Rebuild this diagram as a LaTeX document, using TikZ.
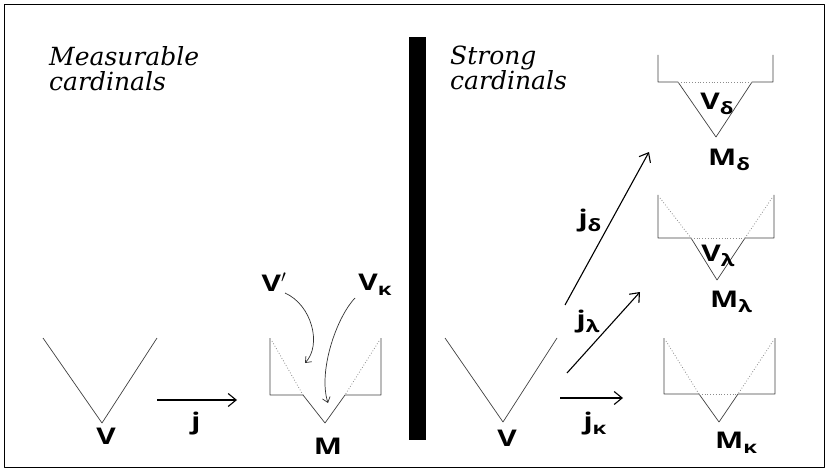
\documentclass[tikz,border=0pt]{standalone}
\usepackage{fontspec}
\setmainfont{DejaVu Serif}
\newfontfamily\lblfont{Open Sans}[FakeStretch=1.3]
\usetikzlibrary{arrows.meta}

\begin{document}
\begin{tikzpicture}[x=1pt, y=-1pt, line join=round,
  >={Straight Barb[length=8pt,width=13pt]},
  head/.style={font=\fontsize{25}{25}\selectfont\itshape, align=left,
               anchor=base west, inner sep=0pt},
  lbl/.style={font=\fontsize{23}{24}\lblfont\bfseries\selectfont, inner sep=0pt},
  cone/.style={draw=black!75, line width=0.7pt},
  cut/.style={draw=black!45, dotted, line width=0.8pt},
  map/.style={->, line width=1.1pt},
  curl/.style={->, line width=0.7pt, draw=black!80,
               >={Straight Barb[length=5pt,width=8pt]}}]

  \newcommand{\sub}[1]{\raisebox{-0.4ex}{\fontsize{17}{17}\selectfont #1}}

  \useasboundingbox (0,0) rectangle (827,473);

  %--- Frame and divider ----------------------------------------------------
  \draw[line width=0.9pt] (4,4) rectangle (824,467);
  \fill (409,37) rectangle (426,440);

  %--- Headings -------------------------------------------------------------
  \node[head] (hmeas) at (49,91) {Measurable\\cardinals};
  \node[head] (hstrong) at (450,90) {Strong\\cardinals};

  %--- Left: V --j--> M -----------------------------------------------------
  \draw[cone] (43,338) -- (102,423) -- (157,338);
  \node[lbl] (V) at (106,436) {V};

  \coordinate (jA) at (157,400);
  \coordinate (jB) at (237,400);
  \draw[map] (jA) -- (jB);
  \node[lbl] (j) at (196,424) {j};

  \draw[cone] (270,338) -- (270,395) -- (303,395) -- (325,423)
              -- (345,395) -- (381,395) -- (381,338);
  \draw[cut] (272,341) -- (303,395);
  \draw[cut] (379,341) -- (345,395);
  \node[lbl] (M) at (328,446) {M};

  \node[lbl] (Vp) at (274,282) {V$'$};
  \node[lbl] (Vk) at (375,285) {V\sub{κ}};
  \coordinate (VpS) at (285,293);
  \coordinate (VpT) at (305,363);
  \coordinate (VkS) at (355,298);
  \coordinate (VkT) at (328,403);
  \draw[curl] (VpS) .. controls (312,305) and (322,345) .. (VpT);
  \draw[curl] (VkS) .. controls (336,318) and (318,372) .. (VkT);

  %--- Right: V with three maps ---------------------------------------------
  \draw[cone] (445,338) -- (503,422) -- (557,338);
  \node[lbl] (V2) at (507,438) {V};

  \coordinate (kA) at (560,398);
  \coordinate (kB) at (623,398);
  \draw[map] (kA) -- (kB);
  \node[lbl] (jk) at (595,424) {j\sub{κ}};

  \coordinate (lA) at (567,373);
  \coordinate (lB) at (640,292);
  \draw[map] (lA) -- (lB);
  \node[lbl] (jl) at (588,322) {j\sub{λ}};

  \coordinate (dA) at (565,305);
  \coordinate (dB) at (649,152);
  \draw[map] (dA) -- (dB);
  \node[lbl] (jd) at (590,221) {j\sub{δ}};

  %--- M_delta ----------------------------------------------------------------
  \draw[cone] (658,55) -- (658,82) -- (678,82) -- (716,137)
              -- (752,82) -- (773,82) -- (773,55);
  \draw[cut] (678,82) -- (752,82);
  \node[lbl] (Vd) at (717,104) {V\sub{δ}};
  \node[lbl] (Md) at (729,160) {M\sub{δ}};

  %--- M_lambda ---------------------------------------------------------------
  \draw[cone] (658,195) -- (658,238) -- (691,238) -- (717,280)
              -- (745,238) -- (774,238) -- (774,195);
  \draw[cut] (691,238) -- (745,238);
  \draw[cut] (660,198) -- (691,238);
  \draw[cut] (772,198) -- (745,238);
  \node[lbl] (Vl) at (718,256) {V\sub{λ}};
  \node[lbl] (Ml) at (731,302) {M\sub{λ}};

  %--- M_kappa ----------------------------------------------------------------
  \draw[cone] (664,338) -- (664,394) -- (699,394) -- (719,422)
              -- (738,394) -- (775,394) -- (775,338);
  \draw[cut] (699,394) -- (738,394);
  \draw[cut] (666,341) -- (699,394);
  \draw[cut] (773,341) -- (738,394);
  \node[lbl] (Mk) at (736,443) {M\sub{κ}};

\end{tikzpicture}
\end{document}
